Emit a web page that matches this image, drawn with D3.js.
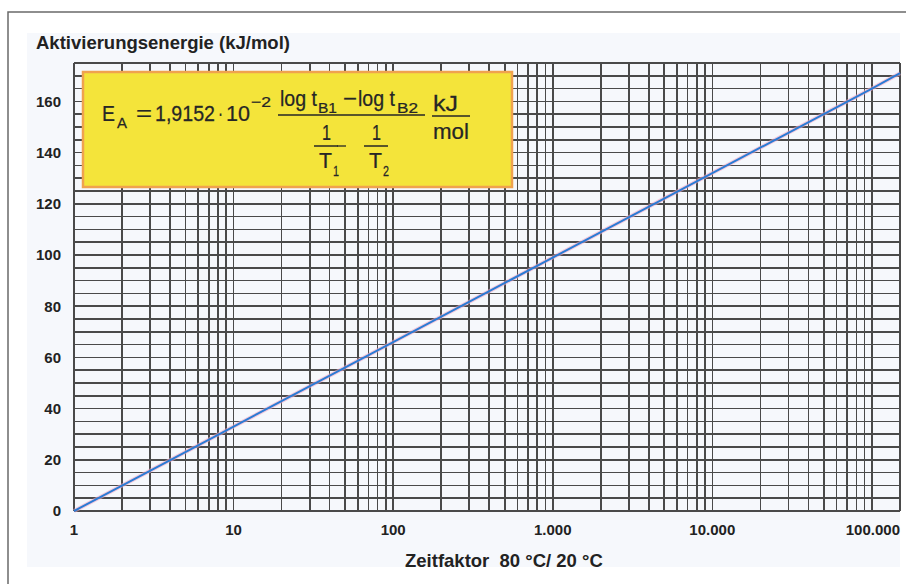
<!DOCTYPE html>
<html>
<head>
<meta charset="utf-8">
<script src="https://cdn.jsdelivr.net/npm/d3@7"></script>
<style>
  body { margin: 0; background: #fff; }
  svg { display: block; }
  text { font-family: "Liberation Sans", Arial, Helvetica, sans-serif; fill: #222; }
  .tick-label { font-weight: bold; font-size: 15px; }
  .axis-title { font-weight: bold; font-size: 18.5px; }
  .formula text { font-size: 22px; fill: #262626; stroke: #262626; stroke-width: 0.25px; }
  .formula .sub { font-size: 15px; }
</style>
</head>
<body>
<div id="chart"></div>
<script>
// values
const xDomain = [1, 150000];
const yDomain = [0, 175];
const xTickValues = [1, 10, 100, 1000, 10000, 100000];
const xTickLabels = ["1", "10", "100", "1.000", "10.000", "100.000"];
const yTickValues = [0, 20, 40, 60, 80, 100, 120, 140, 160];
const yGridStep = 5;

// Zeitfaktor vs. Aktivierungsenergie
const lineFactor = [1, 10, 100, 1000, 10000, 100000, 150000];
const lineEnergy = [0, 33, 66, 99, 132, 165, 171];

const width = 906, height = 584;
const plot = {left: 74, right: 900, top: 63, bottom: 511};

const svg = d3.select("#chart").append("svg")
    .attr("width", width)
    .attr("height", height);

// outer frame (top + left only, rest is cropped)
svg.append("path")
    .attr("d", `M8,${height} L8,12 L${width},12`)
    .attr("fill", "none")
    .attr("stroke", "#6a6a6a")
    .attr("stroke-width", 1.5);

// faint panel behind the chart
svg.append("rect")
    .attr("x", 27).attr("y", 33)
    .attr("width", plot.right - 27).attr("height", 567 - 33)
    .attr("fill", "#f6f8fc");

const x = d3.scaleLog().domain(xDomain).range([plot.left, plot.right]);
const y = d3.scaleLinear().domain(yDomain).range([plot.bottom, plot.top]);

const grid = svg.append("g")
    .attr("stroke", "#4a4a4a")
    .attr("stroke-width", 1.6)
    .attr("shape-rendering", "crispEdges");

// vertical log grid: 1..9 per decade
grid.selectAll(".vline")
    .data(x.ticks().concat([xDomain[1]]))
    .join("line")
    .attr("x1", d => x(d)).attr("x2", d => x(d))
    .attr("y1", plot.top).attr("y2", plot.bottom);

// horizontal grid every 5 kJ/mol
grid.selectAll(".hline")
    .data(d3.range(yDomain[0], yDomain[1] + 0.1, yGridStep))
    .join("line")
    .attr("x1", plot.left).attr("x2", plot.right)
    .attr("y1", d => y(d)).attr("y2", d => y(d));

// y tick labels
svg.append("g").selectAll("text")
    .data(yTickValues)
    .join("text")
    .attr("class", "tick-label")
    .attr("x", 61)
    .attr("y", d => y(d))
    .attr("dy", "0.36em")
    .attr("text-anchor", "end")
    .text(d => d);

// x tick labels
svg.append("g").selectAll("text")
    .data(xTickValues)
    .join("text")
    .attr("class", "tick-label")
    .attr("x", (d, i) => i === xTickValues.length - 1 ? plot.right : x(d))
    .attr("y", 535)
    .attr("text-anchor", (d, i) => i === xTickValues.length - 1 ? "end" : "middle")
    .text((d, i) => xTickLabels[i]);

// axis titles
svg.append("text").attr("class", "axis-title")
    .attr("x", 36).attr("y", 49)
    .text("Aktivierungsenergie (kJ/mol)");
svg.append("text").attr("class", "axis-title")
    .attr("x", 405).attr("y", 567)
    .attr("xml:space", "preserve")
    .text("Zeitfaktor  80 °C/ 20 °C");

// the line
const lineData = lineFactor.map((f, i) => ({f: f, e: lineEnergy[i]}));
const line = d3.line().x(d => x(d.f)).y(d => y(d.e));
svg.append("path")
    .attr("d", line(lineData))
    .attr("fill", "none")
    .attr("stroke", "#f3a9c4")
    .attr("stroke-opacity", 0.6)
    .attr("stroke-width", 4);
svg.append("path")
    .attr("d", line(lineData))
    .attr("fill", "none")
    .attr("stroke", "#2b7bd4")
    .attr("stroke-width", 2);

// formula box
const box = {x: 83, y: 72, w: 429, h: 115};
const f = svg.append("g").attr("class", "formula");
f.append("rect")
    .attr("x", box.x).attr("y", box.y)
    .attr("width", box.w).attr("height", box.h)
    .attr("fill", "#f4e43a")
    .attr("stroke", "#f0a24e")
    .attr("stroke-width", 2.5);

// text piece squeezed horizontally to the width it has in the reference
const t = (px, py, str, w, cls) => {
  const el = f.append("text")
      .attr("class", cls || null)
      .text(str);
  const natural = el.node().getComputedTextLength();
  const sx = w ? w / natural : 1;
  el.attr("transform", `translate(${px},${py}) scale(${sx},1)`);
  return el;
};
const bar = (x1, x2, yy) => f.append("line")
    .attr("x1", x1).attr("x2", x2)
    .attr("y1", yy).attr("y2", yy)
    .attr("stroke", "#262626").attr("stroke-width", 1.5);

t(102, 121, "E", 13);
t(117, 128, "A", 10, "sub");
t(136, 121, "=", 16);
t(155, 121, "1,9152", 60);
t(218, 121, "·", 5);
t(226, 121, "10", 24);
t(251, 107, "−2", 20, "sub");

// numerator
t(280, 106, "log t", 37);
t(318, 113, "B1", 19, "sub");
t(343, 106, "−", 14);
t(358, 106, "log t", 37);
t(397, 113, "B2", 21, "sub");
bar(278, 425, 115);

// denominator: 1/T1 - 1/T2
[{cx: 326, s: "1"}, {cx: 376, s: "2"}].forEach(d => {
  t(d.cx - 4, 140, "1", 9);
  bar(d.cx - 12, d.cx + 12, 146);
  t(d.cx - 7, 168, "T", 13);
  t(d.cx + 7, 176, d.s, 6, "sub");
});
bar(337, 346, 146).attr("stroke-width", 1.3);

// unit kJ/mol
t(433, 111, "kJ", 25);
bar(432, 470, 116);
t(433, 139, "mol", 36);
</script>
</body>
</html>
